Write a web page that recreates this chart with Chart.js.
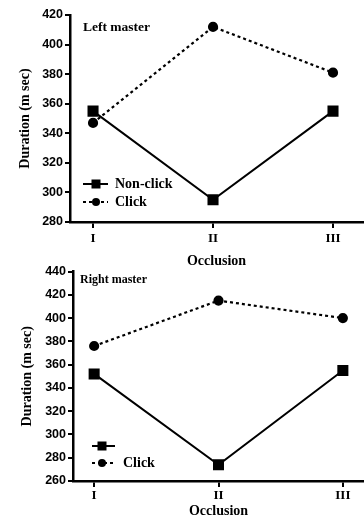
<!DOCTYPE html>
<html>
<head>
<meta charset="utf-8">
<script src="https://cdn.jsdelivr.net/npm/chart.js@4"></script>
<style>
  html, body { margin: 0; padding: 0; background: #fff; }
  body { width: 364px; height: 520px; position: relative; overflow: hidden; }
  .panel { position: absolute; left: 0; width: 364px; }
  #topPanel { top: 0; height: 270px; }
  #bottomPanel { top: 262px; height: 258px; }
</style>
</head>
<body>
<div class="panel" id="topPanel"><canvas id="leftChart"></canvas></div>
<div class="panel" id="bottomPanel"><canvas id="rightChart"></canvas></div>
<script>
const categories = ["I", "II", "III"];
const seriesNames = ["Non-click", "Click"];

const leftNonClick = [355, 295, 355];
const leftClick = [347, 412, 381];
const leftYTicks = [280, 300, 320, 340, 360, 380, 400, 420];

const rightNonClick = [352, 274, 355];
const rightClick = [376, 415, 400];
const rightYTicks = [260, 280, 300, 320, 340, 360, 380, 400, 420, 440];

const serif = "'Liberation Serif', 'DejaVu Serif', serif";
const sans = "'Liberation Sans', Arial, sans-serif";

const toPoints = (values) => values.map((v, i) => ({ x: i + 1, y: v }));

// panel name + legend drawn inside the plot area
const panelDecor = {
  id: "panelDecor",
  afterDatasetsDraw(chart, args, opts) {
    const { ctx, chartArea } = chart;
    ctx.save();
    ctx.fillStyle = "#000";
    ctx.textBaseline = "middle";
    ctx.font = `bold ${opts.titleSize}px ${serif}`;
    ctx.fillText(opts.title, chartArea.left + opts.titleX, chartArea.top + opts.titleY);

    ctx.font = `bold 14px ${serif}`;
    opts.rows.forEach((row, i) => {
      const ds = chart.data.datasets[i];
      const y = chartArea.bottom - row;
      const x0 = chartArea.left + opts.lineFrom;
      const x1 = chartArea.left + opts.lineTo;
      const mx = chartArea.left + opts.markerAt;
      ctx.strokeStyle = "#000";
      ctx.lineWidth = ds.borderWidth;
      ctx.setLineDash(ds.borderDash || []);
      ctx.beginPath();
      ctx.moveTo(x0, y);
      ctx.lineTo(x1, y);
      ctx.stroke();
      ctx.setLineDash([]);
      if (ds.pointStyle === "rect") {
        ctx.fillRect(mx - 4.5, y - 4.5, 9, 9);
      } else {
        ctx.beginPath();
        ctx.arc(mx, y, 4, 0, Math.PI * 2);
        ctx.fill();
      }
      const label = opts.labels[i];
      if (label) ctx.fillText(label, chartArea.left + opts.textAt, y);
    });
    ctx.restore();
  }
};

const makeChart = (canvasId, nonClick, click, yTicks, cfg) => {
  return new Chart(document.getElementById(canvasId), {
    type: "line",
    data: {
      datasets: [
        {
          label: seriesNames[0],
          data: toPoints(nonClick),
          borderColor: "#000",
          backgroundColor: "#000",
          borderWidth: 2,
          pointStyle: "rect",
          pointRadius: 6.4,
          pointHoverRadius: 6.4
        },
        {
          label: seriesNames[1],
          data: toPoints(click),
          borderColor: "#000",
          backgroundColor: "#000",
          borderWidth: 2.2,
          borderDash: [3, 3],
          pointStyle: "circle",
          pointRadius: 4,
          pointHoverRadius: 4
        }
      ]
    },
    options: {
      responsive: true,
      maintainAspectRatio: false,
      animation: false,
      layout: {
        autoPadding: false,
        padding: { top: cfg.padTop, right: cfg.padRight, left: 0, bottom: 0 }
      },
      plugins: {
        legend: { display: false },
        tooltip: { enabled: false },
        panelDecor: cfg.decor
      },
      scales: {
        x: {
          type: "linear",
          min: cfg.xMin,
          max: cfg.xMax,
          afterBuildTicks: (scale) => {
            scale.ticks = categories.map((_, i) => ({ value: i + 1 }));
          },
          afterFit: (scale) => {
            scale.height = cfg.xHeight;
            scale.paddingLeft = 0;
            scale.paddingRight = 0;
          },
          border: { display: true, color: "#000", width: 2.5 },
          grid: { drawOnChartArea: false, drawTicks: true, tickLength: 6, tickColor: "#000", lineWidth: 2 },
          ticks: {
            color: "#000",
            padding: cfg.xTickPad,
            font: { family: serif, size: 13, weight: "bold" },
            callback: (value) => categories[value - 1] || ""
          },
          title: {
            display: true,
            text: "Occlusion",
            color: "#000",
            font: { family: serif, size: 14, weight: "bold" },
            padding: { top: 0, bottom: cfg.xTitlePad }
          }
        },
        y: {
          min: yTicks[0],
          max: yTicks[yTicks.length - 1],
          afterBuildTicks: (scale) => {
            scale.ticks = yTicks.map((v) => ({ value: v }));
          },
          afterFit: (scale) => { scale.width = cfg.yWidth; },
          border: { display: true, color: "#000", width: 2.5 },
          grid: { drawOnChartArea: false, drawTicks: true, tickLength: 5, tickColor: "#000", lineWidth: 2 },
          ticks: {
            color: "#000",
            padding: 2,
            font: { family: sans, size: 12.5, weight: "bold" }
          },
          title: {
            display: true,
            text: "Duration (m sec)",
            color: "#000",
            font: { family: serif, size: 14, weight: "bold" },
            padding: { top: cfg.yTitlePad, bottom: 0 }
          }
        }
      }
    },
    plugins: [panelDecor]
  });
};

makeChart("leftChart", leftNonClick, leftClick, leftYTicks, {
  padTop: 15, padRight: 1,
  xMin: 0.808, xMax: 3.25,
  xHeight: 48, xTickPad: 3, xTitlePad: 0,
  yWidth: 70, yTitlePad: 17,
  decor: {
    title: "Left master", titleSize: 13.5, titleX: 13, titleY: 13,
    rows: [38, 20], lineFrom: 13, lineTo: 38, markerAt: 26, textAt: 45,
    labels: ["Non-click", "Click"]
  }
});

makeChart("rightChart", rightNonClick, rightClick, rightYTicks, {
  padTop: 8, padRight: 0,
  xMin: 0.83, xMax: 3.17,
  xHeight: 39, xTickPad: 1, xTitlePad: 0,
  yWidth: 73, yTitlePad: 19,
  decor: {
    title: "Right master", titleSize: 12, titleX: 7, titleY: 8,
    rows: [35, 18], lineFrom: 19, lineTo: 42, markerAt: 29, textAt: 50,
    labels: ["", "Click"]
  }
});
</script>
</body>
</html>
